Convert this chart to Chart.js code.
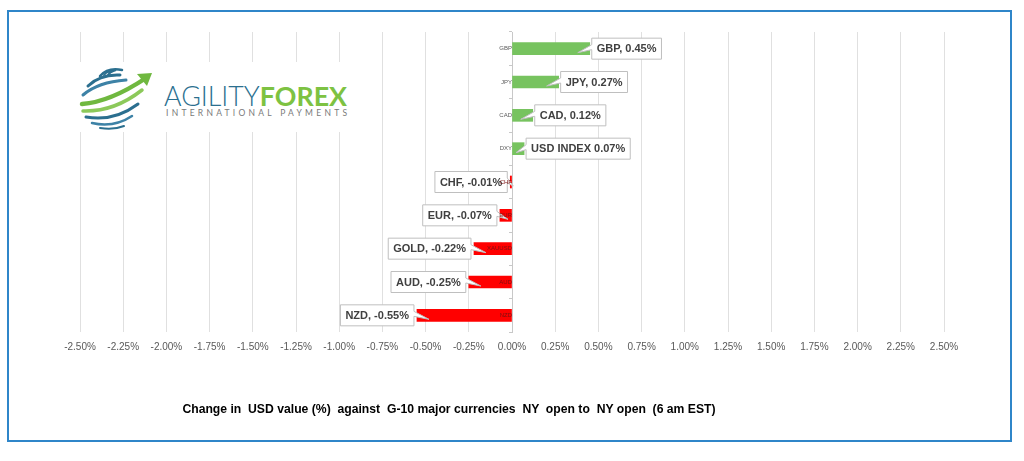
<!DOCTYPE html>
<html>
<head>
<meta charset="utf-8">
<script src="https://cdn.jsdelivr.net/npm/chart.js@4.4.0/dist/chart.umd.min.js"></script>
<style>
  body { margin: 0; background: #fff; }
  #wrap { position: relative; width: 1024px; height: 461px; overflow: hidden; }
  #output { position: absolute; left: 0; top: 0; }
  #frame { position: absolute; left: 7px; top: 10px; width: 1001px; height: 428px; border: 2px solid #2f86c9; }
  #logo { position: absolute; left: 64px; top: 62px; width: 292px; height: 70px; background: #fff; }
  #caption { position: absolute; left: 0; top: 402px; width: 898px; text-align: center;
    font: bold 12.2px 'Liberation Sans', Arial, sans-serif; white-space: pre; color: #000; }
</style>
</head>
<body>
<div id="wrap">
  <canvas id="output" width="1024" height="461"></canvas>
  <div id="frame"></div>
  <div id="logo">
    <svg width="292" height="70" viewBox="0 0 292 70">
      <g fill="none" stroke-linecap="round">
        <path d="M40 13 Q44 8 52 8 Q46 10 44 13" stroke="#2b6f8f" stroke-width="2"/>
        <path d="M36 14 Q44 5 58 8" stroke="#2b6f8f" stroke-width="2.5"/>
        <path d="M24 24 Q36 12 56 13" stroke="#2b6f8f" stroke-width="3"/>
        <path d="M19 33 Q34 20 62 18" stroke="#3d82a6" stroke-width="3"/>
        <path d="M18 42 Q46 40 82 16" stroke="#6fb83f" stroke-width="4.5"/>
        <path d="M19 49 Q50 50 78 28" stroke="#8cc95a" stroke-width="3.5"/>
        <path d="M22 55 Q50 60 74 42" stroke="#2b6f8f" stroke-width="3"/>
        <path d="M28 61 Q50 66 68 54" stroke="#3d82a6" stroke-width="2.5"/>
        <path d="M36 66 Q50 68 60 64" stroke="#2b6f8f" stroke-width="2"/>
      </g>
      <polygon points="88,11 73,12 83,24" fill="#6fb83f"/>
      <text x="100" y="44" textLength="183" lengthAdjust="spacingAndGlyphs" font-family="Lato, sans-serif" font-size="27"><tspan fill="#2b6f8f" font-weight="300">AGILITY</tspan><tspan fill="#7dc242" font-weight="700">FOREX</tspan></text>
      <text x="102" y="54" textLength="181" lengthAdjust="spacing" font-family="Lato, sans-serif" font-size="8.5" fill="#7a7a7a">INTERNATIONAL PAYMENTS</text>
    </svg>
  </div>
  <div id="caption"></div>
</div>
<script>
// chart data
const categories = ['GBP', 'JPY', 'CAD', 'DXY', 'CHF', 'EUR', 'XAUUSD', 'AUD', 'NZD']
const values = [0.45, 0.27, 0.12, 0.07, -0.01, -0.07, -0.22, -0.25, -0.55]
const calloutNames = ['GBP,', 'JPY,', 'CAD,', 'USD INDEX', 'CHF,', 'EUR,', 'GOLD,', 'AUD,', 'NZD,']
const xMin = -2.5
const xMax = 2.5
const xStep = 0.25
const caption = 'Change in  USD value (%)  against  G-10 major currencies  NY  open to  NY open  (6 am EST)'

document.getElementById('caption').textContent = caption

const upColor = '#77c35f'
const downColor = '#ff0000'

// boxed labels with a little pointer, like the Excel callouts
const calloutPlugin = {
  id: 'callouts',
  afterDatasetsDraw (chart) {
    const ctx = chart.ctx
    const meta = chart.getDatasetMeta(0)
    ctx.save()
    ctx.font = 'bold 11px "Liberation Sans", Arial, sans-serif'
    ctx.textBaseline = 'middle'
    meta.data.forEach(function (bar, i) {
      const v = values[i]
      const text = calloutNames[i] + ' ' + v.toFixed(2) + '%'
      const w = ctx.measureText(text).width + 10
      const h = 21
      const y0 = bar.y - h / 2
      const pos = v >= 0
      const len = Math.abs(bar.x - bar.base)
      const reach = Math.max(3, Math.min(12, len * 0.7))
      let x0
      ctx.beginPath()
      if (pos) {
        x0 = bar.x + 2
        ctx.moveTo(x0, y0)
        ctx.lineTo(x0 + w, y0)
        ctx.lineTo(x0 + w, y0 + h)
        ctx.lineTo(x0, y0 + h)
        ctx.lineTo(x0, bar.y + 1)
        ctx.lineTo(bar.x - reach, bar.y + 4)
        ctx.lineTo(x0, bar.y - 4)
      } else {
        x0 = bar.x - 3 - w
        ctx.moveTo(x0 + w, y0)
        ctx.lineTo(x0, y0)
        ctx.lineTo(x0, y0 + h)
        ctx.lineTo(x0 + w, y0 + h)
        ctx.lineTo(x0 + w, bar.y + 1)
        ctx.lineTo(bar.x + reach, bar.y + 4)
        ctx.lineTo(x0 + w, bar.y - 4)
      }
      ctx.closePath()
      ctx.fillStyle = '#fff'
      ctx.fill()
      ctx.strokeStyle = '#bfbfbf'
      ctx.lineWidth = 1
      ctx.stroke()
      ctx.fillStyle = '#404040'
      ctx.textAlign = 'left'
      ctx.fillText(text, x0 + 5, bar.y + 0.5)
    })
    ctx.restore()
  }
}

var ctx = document.getElementById('output').getContext('2d')
var myChart = new Chart(ctx, {
  type: 'bar',
  data: {
    labels: categories,
    datasets: [{
      data: values,
      backgroundColor: values.map(v => v >= 0 ? upColor : downColor),
      barThickness: 12
    }]
  },
  plugins: [calloutPlugin],
  options: {
    indexAxis: 'y',
    responsive: false,
    animation: false,
    layout: { padding: { left: 80, right: 80, top: 32, bottom: 99 } },
    plugins: { legend: { display: false }, tooltip: { enabled: false } },
    scales: {
      x: {
        min: xMin,
        max: xMax,
        border: { display: false },
        grid: { color: '#e0e0e0', drawTicks: false },
        ticks: {
          stepSize: xStep,
          padding: 9,
          color: '#595959',
          font: { family: 'Liberation Sans', size: 10 },
          callback: v => v.toFixed(2) + '%'
        }
      },
      y: {
        position: { x: 0 },
        border: { color: '#c8c8c8' },
        grid: { drawOnChartArea: false, tickLength: 3, color: '#c8c8c8' },
        ticks: {
          z: 1,
          padding: 1,
          autoSkip: false,
          font: { family: 'Liberation Sans', size: 6 },
          color: c => values[c.index] >= 0 ? '#595959' : '#7a1010'
        }
      }
    }
  }
})
</script>
</body>
</html>
